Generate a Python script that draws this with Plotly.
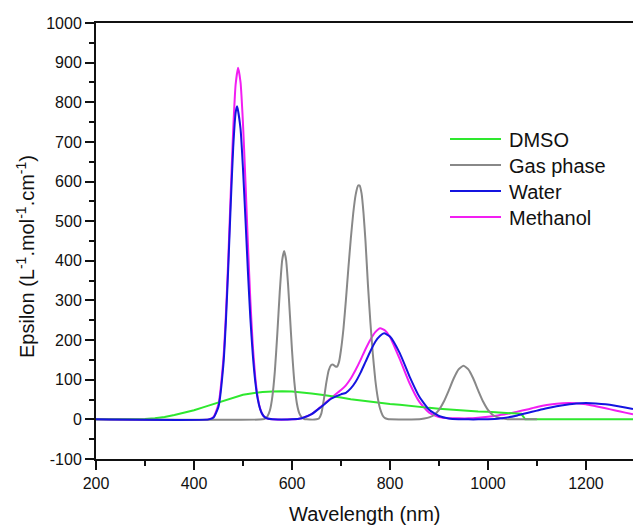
import plotly.graph_objects as go

# ---- spectra (wavelength in nm, epsilon in L.mol-1.cm-1) ----
dmso_wl = [200, 280, 300, 320, 340, 360, 380, 400, 420, 440, 460, 480, 500, 520, 540,
           560, 580, 600, 620, 640, 660, 680, 700, 720, 740, 760, 780, 800, 820, 840,
           860, 880, 900, 920, 940, 960, 980, 1000, 1020, 1040, 1060, 1068, 1076, 1296]
dmso_eps = [0, 0, 1, 3, 6, 11, 17, 23, 31, 39, 47, 55, 62, 66, 69,
            70, 71, 70, 68, 65, 62, 59, 55, 51, 48, 44, 41, 39, 37, 34,
            31, 29, 27, 25, 23, 21, 20, 19, 18, 17, 15, 14, 0, 0]

gas_wl = [200, 540, 545, 550, 555, 560, 565, 570, 575, 580,
          584, 588, 592, 596, 600, 605, 610, 615, 620, 625,
          630, 650, 655, 660, 665, 670, 675, 680, 684, 688,
          692, 696, 700, 705, 710, 715, 720, 725, 730, 735,
          738, 742, 746, 750, 755, 760, 765, 770, 775, 780,
          785, 790, 795, 800, 860, 870, 880, 890, 900, 910,
          920, 930, 940, 950, 960, 970, 980, 990, 1000, 1010,
          1020, 1030, 1040, 1050, 1100]
gas_eps = [0, 0, 2, 8, 23, 58, 121, 215, 321, 402,
           425, 402, 340, 258, 175, 92, 40, 15, 5, 1,
           0, 0, 2, 15, 50, 92, 124, 137, 138, 134,
           133, 145, 175, 228, 300, 380, 455, 520, 567, 590,
           590, 570, 520, 450, 340, 245, 165, 100, 55, 26,
           10, 3, 1, 0, 0, 2, 5, 11, 24, 45,
           73, 103, 126, 135, 126, 103, 73, 45, 24, 11,
           5, 2, 0.5, 0, 0]

water_wl = [200, 430, 440, 450, 460, 465, 470, 475, 480, 485,
            488, 495, 500, 505, 510, 515, 520, 525, 530, 535,
            540, 545, 550, 560, 600, 620, 640, 660, 680, 700,
            710, 720, 730, 740, 750, 760, 770, 780, 788, 800,
            820, 840, 860, 880, 900, 920, 940, 960, 980, 1000,
            1020, 1040, 1060, 1080, 1100, 1120, 1140, 1160, 1180, 1200,
            1220, 1240, 1260, 1280, 1296]
water_eps = [0, 0, 4.7, 32, 138, 244, 385, 543, 685, 774,
             790, 733, 632, 506, 374, 256, 163, 96, 52, 26,
             12, 5, 2, 0.3, 0, 3, 13, 32, 52, 63,
             67, 78, 95, 118, 145, 172, 196, 211, 217, 209,
             167, 108, 57, 24, 8.5, 2.4, 0.5, 0, 0, 0.5,
             1.5, 5, 10, 16, 22, 28, 33, 37, 40, 41,
             40, 38, 34.5, 30, 26]

methanol_wl = [200, 430, 440, 450, 460, 465, 470, 475, 480, 485,
               490, 495, 500, 505, 510, 515, 520, 525, 530, 535,
               540, 545, 550, 560, 600, 620, 640, 660, 680, 700,
               710, 720, 730, 740, 750, 760, 770, 780, 790, 800,
               820, 840, 860, 880, 900, 920, 940, 960, 980, 1000,
               1020, 1040, 1060, 1080, 1100, 1120, 1140, 1165, 1180, 1200,
               1220, 1240, 1260, 1280, 1296]
methanol_eps = [0, 0, 6, 39, 153, 262, 406, 572, 730, 845,
                887, 850, 746, 601, 444, 301, 187, 107, 56, 27,
                12, 5, 2, 0, 0, 3, 13, 33, 54, 74,
                86, 103, 125, 150, 177, 201, 220, 230, 224, 208,
                152, 91, 44, 17, 6, 3, 2.5, 2.5, 4, 6.5,
                10, 14, 19.5, 25, 31, 36, 39.5, 41, 40.5, 38,
                33, 28, 22.5, 17, 13]

series_names = ["DMSO", "Gas phase", "Water", "Methanol"]
series_colors = {"DMSO": "#2ee82e", "Gas phase": "#888888",
                 "Water": "#1414e0", "Methanol": "#f21ef2"}
series_data = {"DMSO": (dmso_wl, dmso_eps), "Gas phase": (gas_wl, gas_eps),
               "Water": (water_wl, water_eps), "Methanol": (methanol_wl, methanol_eps)}
# DMSO is cut off abruptly, so it is drawn with straight segments
series_shape = {"DMSO": "linear", "Gas phase": "spline", "Water": "spline", "Methanol": "spline"}

x_ticks = [200, 400, 600, 800, 1000, 1200]
x_ticklabels = ["200", "400", "600", "800", "1000", "1200"]
y_ticks = [-100, 0, 100, 200, 300, 400, 500, 600, 700, 800, 900, 1000]
y_ticklabels = ["-100", "0", "100", "200", "300", "400", "500", "600", "700", "800", "900", "1000"]

x_range = [200, 1296]
y_range = [-100, 1000]

W, H = 633, 527
ML, MR, MT, MB = 96, 0, 23, 68
PW, PH = W - ML - MR, H - MT - MB

FONT = "Arial, Liberation Sans, sans-serif"


def px_to_paper(px, py):
    return (px - ML) / PW, (H - MB - py) / PH


fig = go.Figure()

# drawing order: methanol underneath, water on top
for name in ["Methanol", "DMSO", "Gas phase", "Water"]:
    wl, eps = series_data[name]
    line = dict(color=series_colors[name], width=2, shape=series_shape[name])
    if series_shape[name] == "spline":
        line["smoothing"] = 0.5
    fig.add_trace(go.Scatter(x=wl, y=eps, mode="lines", name=name, line=line,
                             showlegend=False, hoverinfo="skip"))

# legend drawn as line samples + labels
shapes = []
annotations = []
row_y = [139, 165, 191, 217]
for name, yy in zip(series_names, row_y):
    x0, y0 = px_to_paper(450, yy)
    x1, _ = px_to_paper(501, yy)
    shapes.append(dict(type="line", xref="paper", yref="paper", x0=x0, x1=x1, y0=y0, y1=y0,
                       line=dict(color=series_colors[name], width=2)))
    tx, ty = px_to_paper(507, yy + 1)
    annotations.append(dict(text=name, xref="paper", yref="paper", x=tx, y=ty,
                            xanchor="left", yanchor="middle", showarrow=False,
                            font=dict(family=FONT, size=20, color="#111111")))

# axis titles
tx, ty = px_to_paper(364.5, 514)
annotations.append(dict(text="Wavelength (nm)", xref="paper", yref="paper", x=tx, y=ty,
                        xanchor="center", yanchor="middle", showarrow=False,
                        font=dict(family=FONT, size=20, color="#111111")))
tx, ty = px_to_paper(25, 257)
annotations.append(dict(text="Epsilon (L<sup>-1</sup>.mol<sup>-1</sup>.cm<sup>-1</sup>)",
                        xref="paper", yref="paper", x=tx, y=ty, textangle=-90,
                        xanchor="center", yanchor="middle", showarrow=False,
                        font=dict(family=FONT, size=20, color="#111111")))

axis_common = dict(showgrid=False, zeroline=False, showline=True, linecolor="#111111",
                   linewidth=2, ticks="outside", ticklen=9, tickwidth=1.5,
                   tickcolor="#111111", tickfont=dict(family=FONT, size=16, color="#111111"))

fig.update_layout(
    width=W, height=H,
    margin=dict(l=ML, r=MR, t=MT, b=MB, pad=0),
    paper_bgcolor="white", plot_bgcolor="white",
    shapes=shapes, annotations=annotations,
    xaxis=dict(range=x_range, tickmode="array", tickvals=x_ticks, ticktext=x_ticklabels,
               mirror=True,
               minor=dict(ticks="outside", ticklen=5, dtick=100, tick0=200, tickwidth=1.5,
                          tickcolor="#111111"),
               **axis_common),
    yaxis=dict(range=y_range, tickmode="array", tickvals=y_ticks, ticktext=y_ticklabels,
               minor=dict(ticks="outside", ticklen=5, dtick=50, tick0=0, tickwidth=1.5,
                          tickcolor="#111111"),
               **axis_common),
)

fig.write_html("out.html")
